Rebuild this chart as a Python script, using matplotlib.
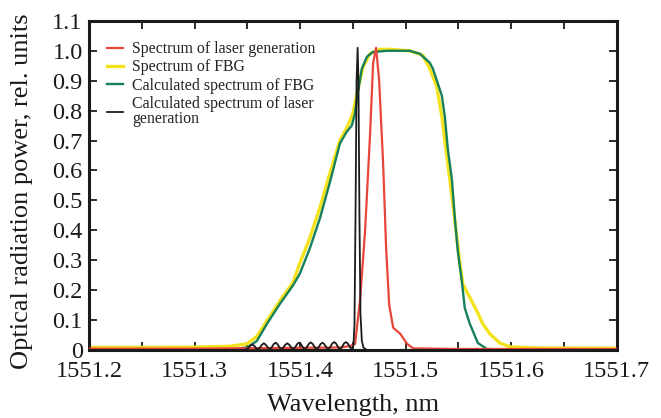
import matplotlib
matplotlib.use("Agg")
import matplotlib.pyplot as plt
from matplotlib.ticker import MultipleLocator, FuncFormatter

plt.rcParams['font.family'] = ['Liberation Serif', 'DejaVu Serif']

# ---- data (wavelength in nm, relative power) ----
fbg_meas_x = [1551.200, 1551.250, 1551.300, 1551.3335, 1551.3496, 1551.3591, 1551.3686, 1551.3809,
              1551.3932, 1551.3998, 1551.4093, 1551.4188, 1551.4282, 1551.4377, 1551.4453, 1551.4500,
              1551.4547, 1551.4595, 1551.4661, 1551.4756, 1551.4850, 1551.5040, 1551.5163, 1551.5229,
              1551.5295, 1551.5343, 1551.5400, 1551.5447, 1551.5485, 1551.5513, 1551.5542, 1551.5608,
              1551.5674, 1551.5731, 1551.5797, 1551.5892, 1551.5987, 1551.6270, 1551.700]
fbg_meas_y = [0.008, 0.008, 0.009, 0.012, 0.020, 0.045, 0.097, 0.164,
              0.225, 0.290, 0.375, 0.476, 0.590, 0.700, 0.750, 0.790,
              0.870, 0.945, 0.990, 1.005, 1.005, 1.000, 0.985, 0.940,
              0.880, 0.780, 0.620, 0.490, 0.375, 0.290, 0.220, 0.175,
              0.130, 0.087, 0.054, 0.023, 0.010, 0.006, 0.005]

fbg_calc_x = [1551.200, 1551.300, 1551.335, 1551.350, 1551.3591, 1551.3686, 1551.3809, 1551.3932,
              1551.3998, 1551.4093, 1551.4188, 1551.4282, 1551.4377, 1551.4443, 1551.4490, 1551.4519,
              1551.4547, 1551.4585, 1551.4633, 1551.4689, 1551.4822, 1551.5040, 1551.5134, 1551.5229,
              1551.5258, 1551.5305, 1551.5343, 1551.5371, 1551.5400, 1551.5438, 1551.5466, 1551.5494,
              1551.5532, 1551.5560, 1551.5608, 1551.5684, 1551.5769, 1551.600, 1551.700]
fbg_calc_y = [0.000, 0.000, 0.002, 0.008, 0.030, 0.087, 0.154, 0.215,
              0.255, 0.340, 0.440, 0.560, 0.690, 0.730, 0.750, 0.790,
              0.860, 0.940, 0.980, 0.996, 1.000, 1.000, 0.990, 0.960,
              0.940, 0.890, 0.850, 0.780, 0.670, 0.570, 0.440, 0.330,
              0.230, 0.140, 0.087, 0.023, 0.003, 0.000, 0.000]

laser_meas_x = [1551.200, 1551.300, 1551.438, 1551.4474, 1551.4521, 1551.4569, 1551.4616, 1551.4664,
                1551.4692, 1551.472, 1551.4749, 1551.4787, 1551.4815, 1551.4844, 1551.4882, 1551.4948,
                1551.5014, 1551.5071, 1551.550, 1551.700]
laser_meas_y = [0.004, 0.004, 0.008, 0.013, 0.020, 0.170, 0.400, 0.730,
                0.960, 1.010, 0.900, 0.620, 0.340, 0.150, 0.074, 0.054,
                0.020, 0.005, 0.003, 0.003]

laser_calc_x = [1551.200, 1551.3470,
                1551.3490, 1551.3509, 1551.3527, 1551.3546, 1551.3564, 1551.3583,
                1551.3601, 1551.3620, 1551.3638, 1551.3657, 1551.3675, 1551.3694,
                1551.3712, 1551.3731, 1551.3749, 1551.3768, 1551.3786, 1551.3805,
                1551.3823, 1551.3842, 1551.3860, 1551.3879, 1551.3897, 1551.3916,
                1551.3934, 1551.3953, 1551.3971, 1551.3990, 1551.4008, 1551.4027,
                1551.4045, 1551.4064, 1551.4082, 1551.4101, 1551.4119, 1551.4138,
                1551.4156, 1551.4175, 1551.4193, 1551.4212, 1551.4230, 1551.4249,
                1551.4267, 1551.4286, 1551.4304, 1551.4323, 1551.4341, 1551.4360,
                1551.4378, 1551.4397, 1551.4415, 1551.4434, 1551.4452, 1551.4471,
                1551.4489, 1551.4505, 1551.4515, 1551.4525, 1551.4535, 1551.4545,
                1551.4553, 1551.4562, 1551.4572, 1551.4585, 1551.4600, 1551.4630, 1551.700]
laser_calc_y = [0.000, 0.000,
                0.002, 0.006, 0.014, 0.018, 0.014, 0.006,
                0.002, 0.008, 0.017, 0.022, 0.017, 0.008,
                0.002, 0.008, 0.019, 0.024, 0.019, 0.008,
                0.002, 0.008, 0.017, 0.022, 0.017, 0.008,
                0.002, 0.008, 0.019, 0.024, 0.019, 0.008,
                0.002, 0.009, 0.020, 0.025, 0.020, 0.009,
                0.002, 0.008, 0.019, 0.024, 0.019, 0.008,
                0.002, 0.009, 0.021, 0.026, 0.021, 0.009,
                0.002, 0.009, 0.021, 0.026, 0.021, 0.009,
                0.003, 0.015, 0.080, 0.450, 0.900, 1.010,
                0.900, 0.450, 0.120, 0.030, 0.008, 0.000, 0.000]

labels = ["Spectrum of laser generation", "Spectrum of FBG",
          "Calculated spectrum of FBG", "Calculated spectrum of laser\ngeneration"]
x_ticks = [1551.2, 1551.3, 1551.4, 1551.5, 1551.6, 1551.7]

# ---- figure ----
fig = plt.figure(figsize=(6.61, 4.18), dpi=100)
ax = fig.add_axes([0.1346, 0.163, 0.7985, 0.787])

c_red = '#e8463a'
c_yel = '#f3e21c'
c_grn = '#15805a'
c_blk = '#1b1b1b'

l_y, = ax.plot(fbg_meas_x, fbg_meas_y, color=c_yel, lw=2.4, zorder=2)
l_g, = ax.plot(fbg_calc_x, fbg_calc_y, color=c_grn, lw=1.7, zorder=3)
l_r, = ax.plot(laser_meas_x, laser_meas_y, color=c_red, lw=1.6, zorder=4)
l_k, = ax.plot(laser_calc_x, laser_calc_y, color=c_blk, lw=1.3, zorder=5)

ax.set_xlim(1551.2, 1551.7)
ax.set_ylim(0, 1.1)
ax.set_xticks(x_ticks)
ax.set_xticklabels([f"{v:.1f}" for v in x_ticks])
ax.xaxis.set_minor_locator(MultipleLocator(0.05))
ax.yaxis.set_major_locator(MultipleLocator(0.1))
ax.yaxis.set_major_formatter(FuncFormatter(lambda v, p: "0" if abs(v) < 1e-9 else f"{v:.1f}"))

for s in ax.spines.values():
    s.set_linewidth(2.2)
    s.set_color('#1a1a1a')
ax.tick_params(which='both', direction='in', top=True, right=True, width=1.3, color='#1a1a1a')
ax.tick_params(which='major', length=6, labelsize=17.5)
ax.tick_params(which='minor', length=6)
ax.tick_params(axis='x', pad=8)
ax.tick_params(axis='y', pad=4.5)
for lab in ax.get_xticklabels() + ax.get_yticklabels():
    lab.set_color('#1a1a1a')

ax.set_xlabel("Wavelength, nm", fontsize=19, color='#1a1a1a')
ax.set_ylabel("Optical radiation power, rel. units", fontsize=19, color='#1a1a1a')
ax.xaxis.set_label_coords(0.5, -0.134)
ax.yaxis.set_label_coords(-0.106, 0.483)

leg = ax.legend([l_r, l_y, l_g, l_k], labels, loc='upper left', bbox_to_anchor=(0.023, 0.958),
                frameon=False, fontsize=11.45, handlelength=1.0, handletextpad=0.57,
                labelspacing=0.15, borderaxespad=0.0)
for t in leg.get_texts():
    t.set_color('#222222')
    t.set_linespacing(0.88)

fig.savefig("out.png", dpi=100)
